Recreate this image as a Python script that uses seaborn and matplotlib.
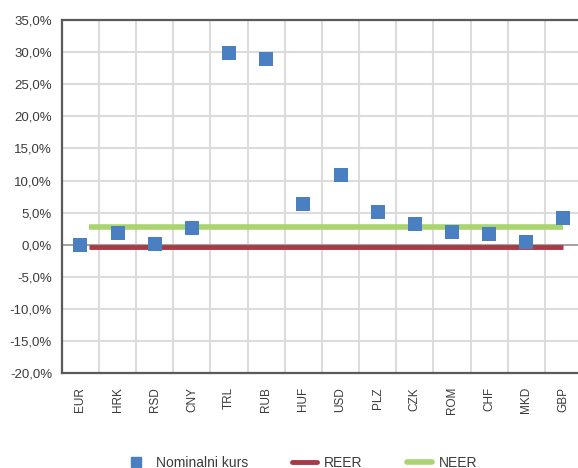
import matplotlib

matplotlib.use("Agg")
import matplotlib.pyplot as plt
import seaborn as sns
from matplotlib.lines import Line2D
from matplotlib.ticker import FuncFormatter, MultipleLocator

currencies = ["EUR", "HRK", "RSD", "CNY", "TRL", "RUB", "HUF",
              "USD", "PLZ", "CZK", "ROM", "CHF", "MKD", "GBP"]
nominal = [0.0, 1.8, 0.1, 2.6, 29.8, 28.9, 6.3,
           10.8, 5.1, 3.2, 2.0, 1.7, 0.4, 4.2]
reer = -0.4
neer = 2.7

blue = "#4a7fc1"
red = "#a83a45"
green = "#a9d46f"
text_col = "#3b3b3b"

sns.set_style("white")
plt.rcParams["font.family"] = ["Liberation Sans Narrow", "Liberation Sans", "DejaVu Sans"]

fig = plt.figure(figsize=(5.78, 4.68), dpi=100)
ax = fig.add_axes([0.107, 0.203, 0.9, 0.754])

x = list(range(len(currencies)))

# zero line
ax.axhline(0, color="#9a9a9a", lw=1.2, zorder=1)

ax.hlines(neer, x[0] + 0.22, x[-1], color=green, lw=4, zorder=2)
ax.hlines(reer, x[0] + 0.22, x[-1], color=red, lw=3.5, zorder=2)

sns.scatterplot(x=x, y=nominal, marker="s", s=105, color=blue,
                edgecolor=blue, linewidth=0, ax=ax, zorder=3)

ax.set_xlim(-0.5, len(currencies) - 0.5)
ax.set_ylim(-20, 35)
ax.yaxis.set_major_locator(MultipleLocator(5))
ax.yaxis.set_major_formatter(FuncFormatter(lambda v, p: f"{v:.1f}%".replace(".", ",")))
ax.set_xticks(x)
ax.set_xticklabels(currencies, rotation=90)
ax.set_xticks([i + 0.5 for i in x[:-1]], minor=True)

ax.grid(True, which="major", axis="y", color="#dcdcdc", lw=1.5, zorder=0)
ax.grid(True, which="minor", axis="x", color="#dcdcdc", lw=1.5, zorder=0)
ax.set_axisbelow(True)

for side in ["left", "top", "bottom", "right"]:
    ax.spines[side].set_color("#5a5a5a")
    ax.spines[side].set_linewidth(1.6)

ax.tick_params(axis="both", which="both", length=0, colors=text_col, labelsize=9.5)
ax.tick_params(axis="x", pad=10, labelsize=8.5)
ax.tick_params(axis="y", pad=7)

handles = [
    Line2D([], [], marker="s", ls="none", color=blue, markersize=7),
    Line2D([], [], color=red, lw=3.5),
    Line2D([], [], color=green, lw=4),
]
fig.legend(handles, ["Nominalni kurs", "REER", "NEER"], loc="lower center",
           bbox_to_anchor=(0.52, -0.03), ncol=3, frameon=False,
           fontsize=10, labelcolor=text_col, columnspacing=3.2,
           handlelength=1.8, handletextpad=0.5)

fig.savefig("out.png", dpi=100)
